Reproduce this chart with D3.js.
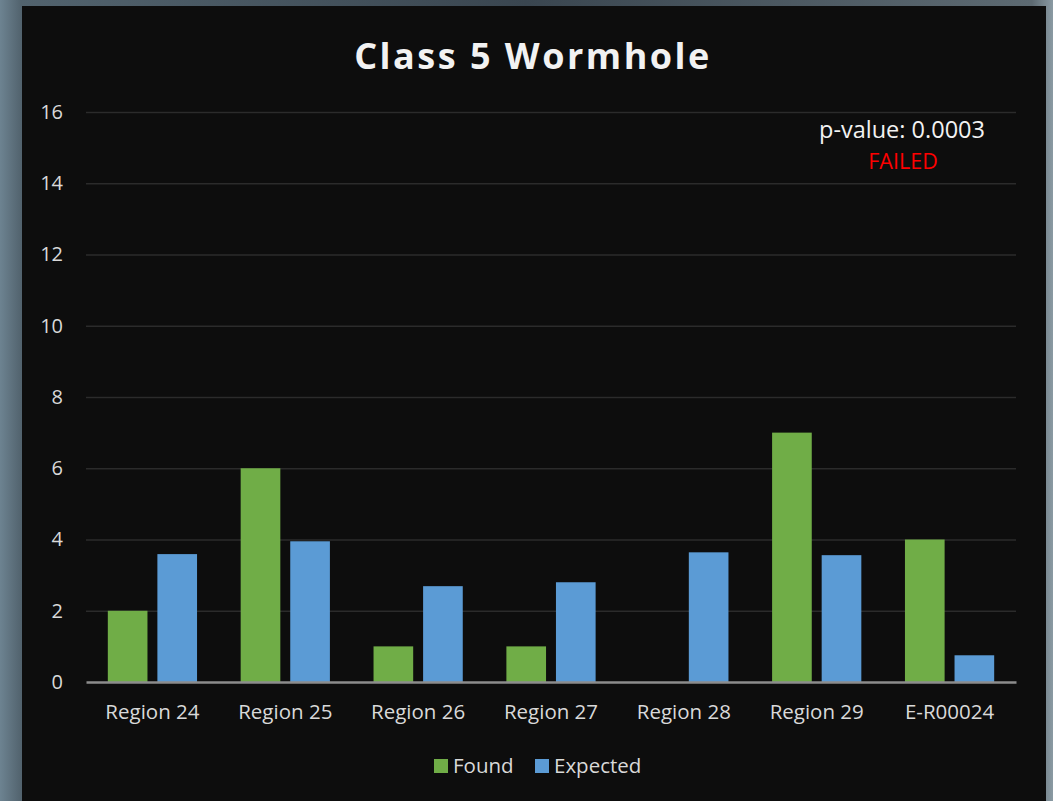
<!DOCTYPE html>
<html>
<head>
<meta charset="utf-8">
<style>
  html, body { margin: 0; padding: 0; }
  body {
    width: 1053px; height: 801px; overflow: hidden;
    background: linear-gradient(90deg, #6d8391 0%, #52636e 2%, #3a4650 50%, #5d6a72 98%, #8a9aa3 100%);
  }
  svg { display: block; }
  text { font-family: "Open Sans", sans-serif; }
  .grid line { stroke: #2b2b2b; stroke-width: 1.5; }
  .grid path { display: none; }
  .yaxis path, .yaxis line, .xaxis line { display: none; }
  .xaxis path { stroke: #8c8c8c; stroke-width: 2.5; }
  .yaxis text, .xaxis text { fill: #d9d9d9; }
</style>
</head>
<body>
<svg id="chart" width="1053" height="801"></svg>
<script src="https://cdn.jsdelivr.net/npm/d3@7"></script>
<script>
var categories = ['Region 24', 'Region 25', 'Region 26', 'Region 27', 'Region 28', 'Region 29', 'E-R00024'];
var found = [2, 6, 1, 1, 0, 7, 4];
var expected = [3.59, 3.95, 2.69, 2.8, 3.64, 3.56, 0.75];
var series = ['Found', 'Expected'];
var colors = ['#70ad47', '#5b9bd5'];
var yTicks = [0, 2, 4, 6, 8, 10, 12, 14, 16];

var svg = d3.select('#chart');

// dark chart panel over the screenshot background
svg.append('rect')
  .attr('x', 22).attr('y', 6)
  .attr('width', 1024).attr('height', 800)
  .attr('fill', '#0d0d0d');

var plotL = 86, plotR = 1016, plotT = 112, plotB = 682;

var x = d3.scaleBand().domain(categories).range([plotL, plotR]).paddingInner(0).paddingOuter(0);
var inner = d3.scaleBand().domain(series).range([0, x.bandwidth()]).paddingInner(0.2).paddingOuter(0.44);
var y = d3.scaleLinear().domain([0, 16]).range([plotB, plotT]);

svg.append('g')
  .attr('class', 'grid')
  .attr('transform', 'translate(' + plotL + ',0)')
  .call(d3.axisLeft(y).tickValues(yTicks.slice(1)).tickSize(-(plotR - plotL)).tickFormat(''));

var rows = categories.map((c, i) => ({ cat: c, vals: [found[i], expected[i]] }));

var groups = svg.selectAll('g.cat')
  .data(rows)
  .enter()
  .append('g')
  .attr('class', 'cat')
  .attr('transform', d => 'translate(' + x(d.cat) + ',0)');

groups.selectAll('rect')
  .data(d => d.vals.map((v, j) => ({ s: series[j], v: v, j: j })))
  .enter()
  .append('rect')
  .attr('x', d => inner(d.s))
  .attr('width', inner.bandwidth())
  .attr('y', d => y(d.v))
  .attr('height', d => y(0) - y(d.v))
  .attr('fill', d => colors[d.j]);

svg.append('g')
  .attr('class', 'yaxis')
  .attr('transform', 'translate(63,0)')
  .call(d3.axisLeft(y).tickValues(yTicks).tickSize(0).tickPadding(0))
  .selectAll('text')
  .style('font-size', '20px');

svg.append('g')
  .attr('class', 'xaxis')
  .attr('transform', 'translate(0,' + plotB + ')')
  .call(d3.axisBottom(x).tickSize(0).tickPadding(22).tickSizeOuter(0))
  .selectAll('text')
  .style('font-size', '20.5px');

svg.append('text')
  .attr('x', 533).attr('y', 69)
  .attr('text-anchor', 'middle')
  .attr('fill', '#f2f2f2')
  .style('font-size', '36px')
  .style('font-weight', 'bold')
  .style('letter-spacing', '2.5px')
  .text('Class 5 Wormhole');

svg.append('text')
  .attr('x', 902).attr('y', 138)
  .attr('text-anchor', 'middle')
  .attr('fill', '#f2f2f2')
  .style('font-size', '23.5px')
  .text('p-value: 0.0003');

svg.append('text')
  .attr('x', 903).attr('y', 169)
  .attr('text-anchor', 'middle')
  .attr('fill', '#ff0000')
  .style('font-size', '21.5px')
  .text('FAILED');

// legend
var legendX = [434, 535];
var legend = svg.selectAll('g.leg')
  .data(series)
  .enter()
  .append('g')
  .attr('class', 'leg')
  .attr('transform', (d, i) => 'translate(' + legendX[i] + ',759)');

legend.append('rect')
  .attr('width', 14).attr('height', 14)
  .attr('fill', (d, i) => colors[i]);

legend.append('text')
  .attr('x', 19).attr('y', 14)
  .attr('fill', '#d9d9d9')
  .style('font-size', '20.5px')
  .text(d => d);
</script>
</body>
</html>
